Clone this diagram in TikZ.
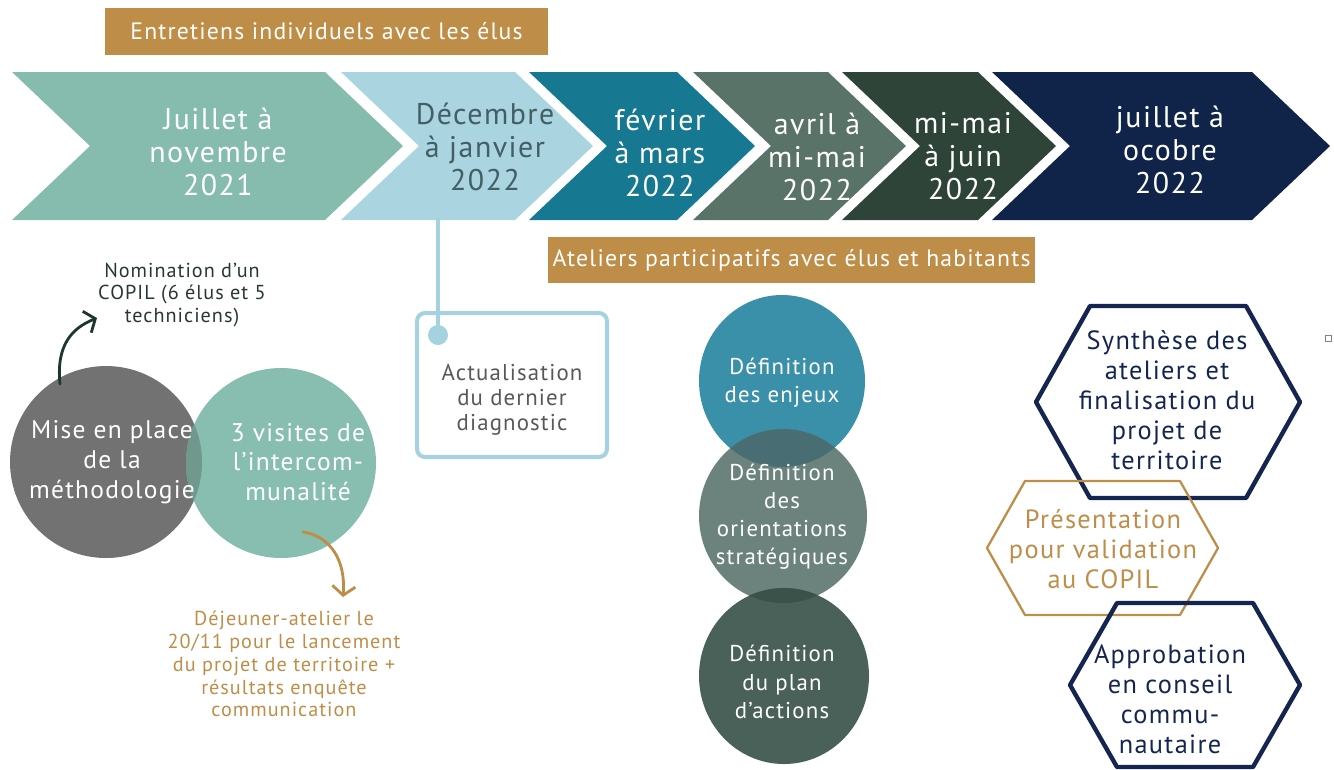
\documentclass[tikz,border=0pt]{standalone}
\usepackage{fontspec}
\setmainfont{PT Sans}[LetterSpace=5]
\usetikzlibrary{arrows.meta}
\definecolor{chA}{RGB}{134,188,174}
\definecolor{chB}{RGB}{169,212,224}
\definecolor{chC}{RGB}{22,120,145}
\definecolor{chD}{RGB}{90,115,105}
\definecolor{chE}{RGB}{47,68,57}
\definecolor{chF}{RGB}{15,36,72}
\definecolor{ocre}{RGB}{190,141,72}
\definecolor{navy}{RGB}{20,38,80}
\definecolor{lblue}{RGB}{165,210,223}
\definecolor{decTxt}{RGB}{65,95,100}
\definecolor{grisTxt}{RGB}{88,88,88}
\definecolor{vertTxt}{RGB}{40,55,50}
\definecolor{vertFl}{RGB}{30,55,45}
\definecolor{gris}{RGB}{114,114,114}
\definecolor{turq}{RGB}{135,190,176}
\definecolor{ovA}{RGB}{112,152,141}
\definecolor{enj}{RGB}{58,143,169}
\definecolor{ori}{RGB}{107,131,124}
\definecolor{pla}{RGB}{74,97,89}
\definecolor{ovB}{RGB}{72,110,115}
\definecolor{ovC}{RGB}{58,82,74}

\begin{document}
\begin{tikzpicture}[line cap=round,line join=round,>={Straight Barb[length=1.8mm,width=4.6mm]},x=0.02cm,y=-0.02cm,
  every node/.style={align=center,inner sep=0pt},
  lab/.style={text=white,font=\fontsize{17}{19}\selectfont},
  bar/.style={fill=ocre,text=white,font=\fontsize{13.5}{15}\selectfont},
  rond/.style={text=white,font=\fontsize{14.5}{17}\selectfont},
  colrond/.style={text=white,font=\fontsize{13}{16}\selectfont},
  hexlab/.style={font=\fontsize{15}{17}\selectfont},
  note/.style={font=\fontsize{11.5}{13}\selectfont}]
\useasboundingbox (0,0) rectangle (1334,769);
\foreach \xl/\xr/\col in {12/325/chA,341/515/chB,529/677/chC,693/828/chD,842/978/chE,992/1252/chF}
\fill[color=\col] (\xl,72) -- (\xr,72) -- (\xr+78,146) -- (\xr,220) -- (\xl,220) -- (\xl+78,146) -- cycle;
\node[lab] (jul21) at (218,152) {Juillet à\\novembre\\2021};
\node[lab,text=decTxt] (dec22) at (485,147) {Décembre\\à janvier\\2022};
\node[lab] (fev22) at (660,153) {février\\à mars\\2022};
\node[lab] (avr22) at (817,157) {avril à\\mi-mai\\2022};
\node[lab] (mai22) at (963,156) {mi-mai\\à juin\\2022};
\node[lab] (jul22) at (1170,150) {juillet à\\ocobre\\2022};
\node[bar,minimum width=8.86cm,minimum height=0.94cm] (entretiens) at (326.5,31.5) {Entretiens individuels avec les élus};
\node[bar,minimum width=9.74cm,minimum height=0.92cm] (ateliers) at (791.5,260) {Ateliers participatifs avec élus et habitants};
\node[draw=lblue,line width=2.3pt,rounded corners=0.16cm,minimum width=3.8cm,minimum height=2.88cm] (actuBox) at (512,385) {};
\node[text=grisTxt,font=\fontsize{13}{14.2}\selectfont] (actuTxt) at (512,400) {Actualisation\\du dernier\\diagnostic};
\node[fill=lblue,circle,minimum size=0.4cm] (actuDot) at (438,335) {};
\coordinate (decFoot) at (438,220);
\draw[color=lblue,line width=2.3pt] (decFoot) -- (actuDot);
\fill[color=gris] (106,462) circle (96);
\fill[color=turq] (281,463) circle (95);
\begin{scope}
\clip (106,462) circle (96);
\fill[color=ovA] (281,463) circle (95);
\end{scope}
\node[rond] (mise) at (112,462) {Mise en place\\de la\\méthodologie};
\node[rond] (visites) at (298,462) {3 visites de\\l'intercom-\\munalité};
\node[note,text=vertTxt] (nomination) at (182,295) {Nomination d'un\\COPIL (6 élus et 5\\techniciens)};
\node[note,text=ocre] (dejeuner) at (284,664) {Déjeuner-atelier le\\20/11 pour le lancement\\du projet de territoire +\\résultats enquête\\communication};
\coordinate (miseTop) at (60,384);
\coordinate (nomTip) at (97,318);
\draw[->,color=vertFl,line width=1.6pt] (miseTop) .. controls (56,345) and (72,328) .. (nomTip);
\coordinate (visBot) at (303,532);
\coordinate (dejTip) at (343,597);
\draw[->,color=ocre,line width=1.6pt] (visBot) .. controls (330,536) and (346,560) .. (dejTip);
\fill[color=enj] (782,381) ellipse [x radius=83,y radius=86];
\fill[color=ori] (783,516) ellipse [x radius=84,y radius=87];
\fill[color=pla] (784,676) ellipse [x radius=85,y radius=88];
\begin{scope}
\clip (782,381) ellipse [x radius=83,y radius=86];
\fill[color=ovB] (783,516) ellipse [x radius=84,y radius=87];
\end{scope}
\begin{scope}
\clip (783,516) ellipse [x radius=84,y radius=87];
\fill[color=ovC] (784,676) ellipse [x radius=85,y radius=88];
\end{scope}
\node[colrond] (enjeux) at (782,383) {Définition\\des enjeux};
\node[colrond] (orient) at (782,517) {Définition\\des\\orientations\\stratégiques};
\node[colrond] (plan) at (782,682) {Définition\\du plan\\d'actions};
\draw[color=navy,line width=2.5pt] (1036,402) -- (1090,306) -- (1246,306) -- (1300,402) -- (1246,498) -- (1090,498) -- cycle;
\draw[color=ocre,line width=1.3pt] (987,548) -- (1025,481) -- (1180,481) -- (1218,548) -- (1180,615) -- (1025,615) -- cycle;
\draw[color=navy,line width=2.5pt] (1070,685) -- (1117,603) -- (1253,603) -- (1300,685) -- (1253,767) -- (1117,767) -- cycle;
\node[hexlab,text=navy] (synthese) at (1167,400) {Synthèse des\\ateliers et\\finalisation du\\projet de\\territoire};
\node[hexlab,text=ocre] (presentation) at (1103,549) {Présentation\\pour validation\\au COPIL};
\node[hexlab,text=navy] (approbation) at (1170,699) {Approbation\\en conseil\\commu-\\nautaire};
\draw[color=gray,line width=0.4pt] (1325,335) rectangle (1331,341);
\end{tikzpicture}
\end{document}
